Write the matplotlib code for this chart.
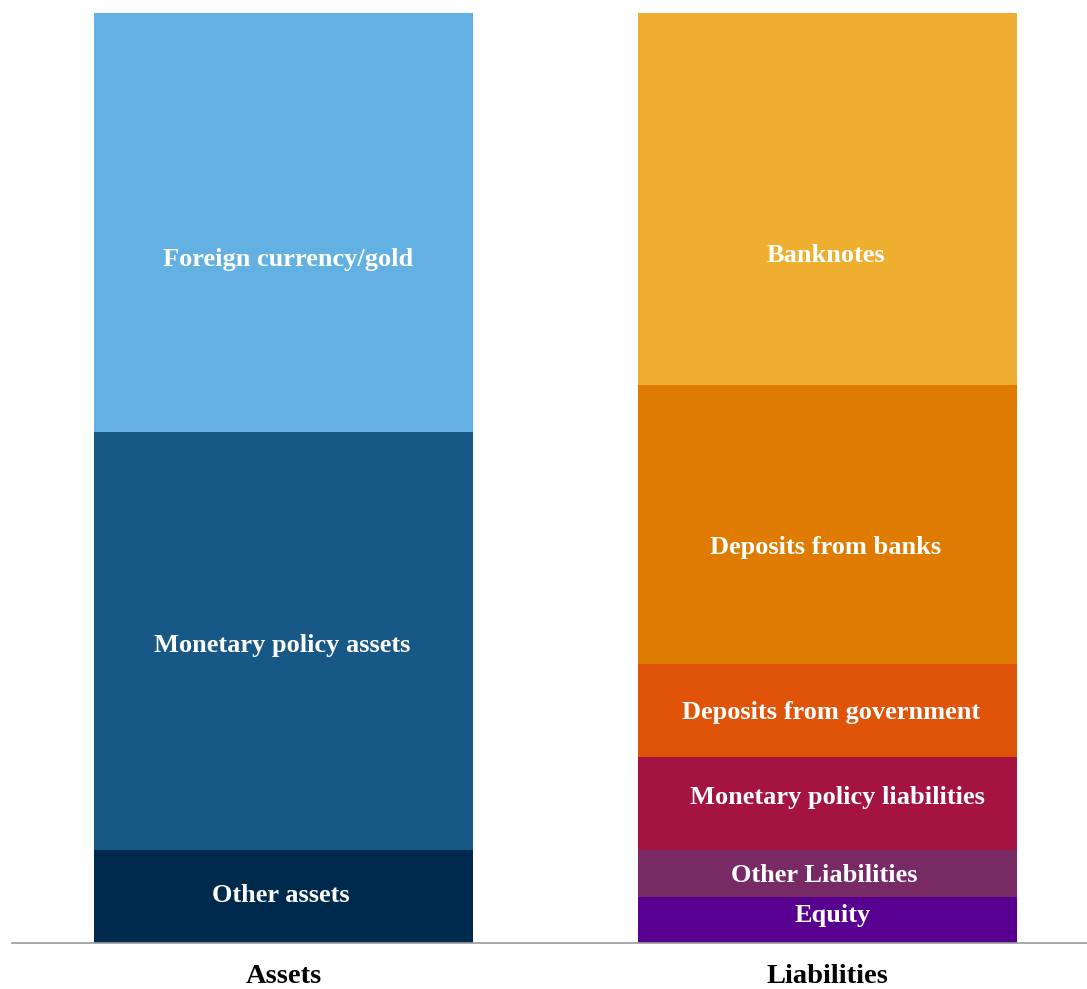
import matplotlib
matplotlib.use("Agg")
import matplotlib.pyplot as plt

# Data
categories = ["Assets", "Liabilities"]
asset_labels = ["Other assets", "Monetary policy assets", "Foreign currency/gold"]
asset_values = [1.0, 4.5, 4.5]
liab_labels = ["Equity", "Other Liabilities", "Monetary policy liabilities",
               "Deposits from government", "Deposits from banks", "Banknotes"]
liab_values = [0.5, 0.5, 1.0, 1.0, 3.0, 4.0]

# Styles
asset_colors = ["#002A4D", "#185886", "#63B0E3"]
liab_colors = ["#580090", "#772A63", "#A51342", "#E0540A", "#DE7B00", "#EEAF30"]
asset_label_dy = [-1, 4.5, 37]          # pixel offsets (down positive)
liab_label_dy = [-4, 2, -6, 2, 23, 57]
asset_label_dx = [-3, -1, 5]
liab_label_dx = [5, -3, 10, 4, -2, -2]

plt.rcParams['font.family'] = ['Liberation Serif', 'DejaVu Serif']

fig = plt.figure(figsize=(10.87, 9.89), dpi=100)
ax = fig.add_axes([12 / 1087, 1 - 943 / 989, 1075 / 1087, 930 / 989])

width = 0.697

def stack(xpos, values, colors, labels, dxs, dys):
    bottom = 0.0
    for v, c, lab, dx, dy in zip(values, colors, labels, dxs, dys):
        ax.bar(xpos, v, width=width, bottom=bottom, color=c, edgecolor='none')
        ax.annotate(lab, (xpos, bottom + v / 2), xytext=(dx * 0.72, -dy * 0.72),
                    textcoords='offset points', ha='center', va='center',
                    color='white', fontsize=19, fontweight='bold')
        bottom += v

stack(0, asset_values, asset_colors, asset_labels, asset_label_dx, asset_label_dy)
stack(1, liab_values, liab_colors, liab_labels, liab_label_dx, liab_label_dy)

ax.set_xlim(-0.499, 1.477)
ax.set_ylim(0, 10)
for s in ['top', 'right', 'left']:
    ax.spines[s].set_visible(False)
ax.spines['bottom'].set_color('#999999')
ax.spines['bottom'].set_linewidth(1.2)
ax.set_yticks([])
ax.set_xticks([])
for i, cat in enumerate(categories):
    ax.text(i, -0.36, cat, ha='center', va='center', fontsize=20.5,
            fontweight='bold', clip_on=False)

fig.savefig("out.png", dpi=100)
